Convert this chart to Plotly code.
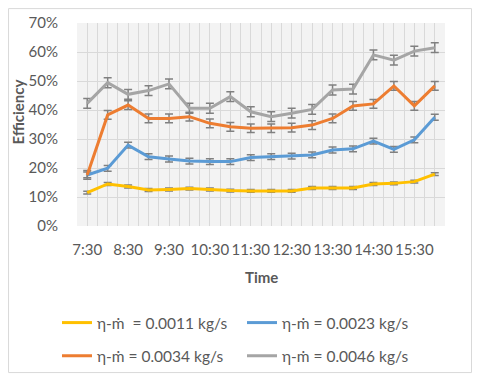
import plotly.graph_objects as go

# 時間軸(每 30 分鐘一筆)
times = ["7:30", "8:00", "8:30", "9:00", "9:30", "10:00", "10:30", "11:00", "11:30",
         "12:00", "12:30", "13:00", "13:30", "14:00", "14:30", "15:00", "15:30", "16:00"]

# 效率 (%)
eff_0011 = [11.5, 14.5, 13.6, 12.4, 12.6, 12.9, 12.6, 12.2, 12.1,
            12.1, 12.1, 13.1, 13.1, 13.1, 14.5, 14.7, 15.3, 17.9]
eff_0023 = [17.6, 19.9, 27.9, 23.9, 23.1, 22.4, 22.2, 22.2, 23.6,
            23.9, 24.1, 24.5, 26.2, 26.6, 29.3, 26.4, 29.7, 37.5]
eff_0034 = [17.6, 38.3, 41.7, 37.1, 37.1, 37.7, 35.4, 34.2, 33.7,
            33.7, 33.9, 34.8, 37.1, 41.4, 42.1, 48.3, 41.4, 48.3]
eff_0046 = [42.3, 49.4, 45.4, 46.7, 49.0, 40.6, 40.6, 44.6, 39.4,
            37.7, 38.9, 40.2, 46.9, 47.2, 59.0, 57.2, 60.3, 61.5]

# 誤差棒大小 (%)
err_0011 = 0.5
err_0023 = 1.0
err_0034 = 1.5
err_0046 = 1.7

series = [
    ("η-ṁ  = 0.0011 kg/s", eff_0011, err_0011, "#FFC000", "legend"),
    ("η-ṁ = 0.0023 kg/s", eff_0023, err_0023, "#5B9BD5", "legend"),
    ("η-ṁ = 0.0034 kg/s", eff_0034, err_0034, "#ED7D31", "legend2"),
    ("η-ṁ = 0.0046 kg/s", eff_0046, err_0046, "#A5A5A5", "legend2"),
]

FONT = "Lato, 'Open Sans', sans-serif"
TXT = "#595959"
GRID = "#d9d9d9"

x = list(range(len(times)))

fig = go.Figure()
for name, vals, err, color, leg in series:
    fig.add_trace(go.Scatter(
        x=x, y=vals, name=name, mode="lines",
        line=dict(color=color, width=3),
        error_y=dict(type="constant", value=err, color="#808080",
                     thickness=1.5, width=4),
        legend=leg,
    ))

# 圖例放在容器座標,避免推擠繪圖區邊界
legend_common = dict(
    orientation="h", xanchor="left", yanchor="middle",
    xref="container", yref="container",
    font=dict(family=FONT, size=15.5, color=TXT),
    bgcolor="rgba(0,0,0,0)", entrywidth=140, entrywidthmode="pixels",
    itemwidth=30, tracegroupgap=0,
)

# 頁面 body 預設有 8px 邊距,圖的尺寸與邊界依此縮小
fig.update_layout(
    width=464, height=368,
    margin=dict(l=69, r=27, t=15, b=150, autoexpand=False),
    paper_bgcolor="white",
    plot_bgcolor="#f3f3f3",
    font=dict(family=FONT, color=TXT),
    showlegend=True,
    legend=dict(x=0.1056, y=0.144, **legend_common),
    legend2=dict(x=0.1056, y=0.054, **legend_common),
    xaxis=dict(
        range=[-0.5, len(times) - 0.5],
        tickvals=x[::2], ticktext=times[::2],
        tickfont=dict(family=FONT, size=15, color=TXT),
        showgrid=True, gridcolor=GRID, gridwidth=1,
        minor=dict(dtick=0.5, tick0=-0.5, showgrid=True, gridcolor=GRID, gridwidth=1),
        zeroline=False, showline=False, ticks="", ticklabelstandoff=13,
        automargin=False,
    ),
    yaxis=dict(
        range=[0, 70], dtick=10, ticksuffix="%",
        tickfont=dict(family=FONT, size=15, color=TXT),
        showgrid=True, gridcolor=GRID, gridwidth=1,
        zeroline=False, showline=False, ticks="", ticklabelstandoff=18,
        automargin=False,
    ),
    annotations=[
        dict(text="<b>Efficiency</b>", x=-0.160, y=0.56, xref="paper", yref="paper",
             xanchor="center", yanchor="middle",
             textangle=-90, showarrow=False, font=dict(family=FONT, size=15, color=TXT)),
        dict(text="<b>Time</b>", x=0.5, y=-0.251, xref="paper", yref="paper",
             xanchor="center", yanchor="middle",
             showarrow=False, font=dict(family=FONT, size=15, color=TXT)),
    ],
    shapes=[
        dict(type="rect", xref="paper", yref="paper",
             x0=-0.186, x1=1.072, y0=-0.722, y1=1.071,
             line=dict(color="#d9d9d9", width=1), layer="below"),
    ],
)

fig.write_html("out.html")
